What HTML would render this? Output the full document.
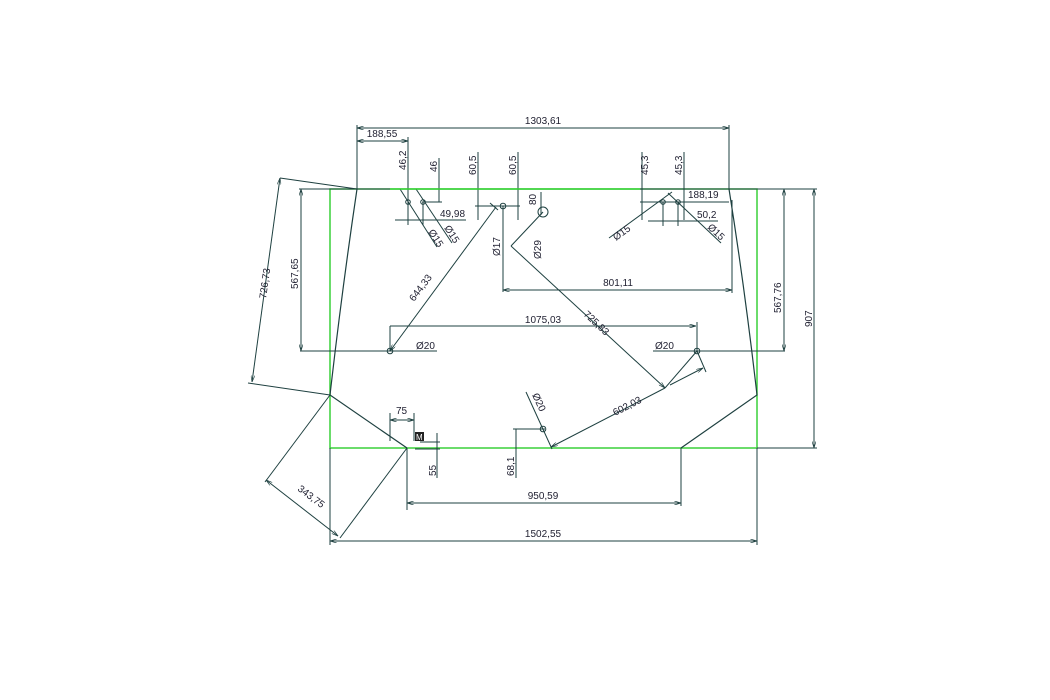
<!DOCTYPE html>
<html><head><meta charset="utf-8"><style>
html,body{margin:0;padding:0;background:#fff;}
svg{display:block;}
text{font-family:"Liberation Sans",sans-serif;font-size:10px;fill:#223;}
</style></head><body>
<svg width="1050" height="700" viewBox="0 0 1050 700" xmlns="http://www.w3.org/2000/svg">
<defs>
<marker id="a" viewBox="0 0 10 6" refX="10" refY="3" markerWidth="7" markerHeight="4" orient="auto-start-reverse"><path d="M0,0 L10,3 L0,6" fill="none" stroke="#1e4040" stroke-width="1"/></marker>
</defs>
<g stroke="#1e4040" stroke-width="1" fill="none">
<!-- green rect -->
<rect x="330" y="189" width="427" height="259" stroke="#3ad13a" stroke-width="1.5"/>
<!-- top dark line segments -->
<line x1="299" y1="189" x2="390" y2="189"/>
<line x1="640" y1="189" x2="817" y2="189"/>
<line x1="757" y1="448" x2="817" y2="448"/>
<line x1="330" y1="448" x2="330" y2="545"/>
<line x1="757" y1="448" x2="757" y2="545"/>
<!-- glass outline -->
<path d="M357,189 Q342,290 330,395 L407,448 M681,448 L757,395 Q745,290 729,189" stroke-width="1.2"/>
<!-- 1303.61 -->
<line x1="357" y1="125" x2="357" y2="189"/>
<line x1="729" y1="125" x2="729" y2="189"/>
<line x1="357" y1="128" x2="729" y2="128" marker-start="url(#a)" marker-end="url(#a)"/>
<!-- 188.55 -->
<line x1="357" y1="141" x2="408" y2="141" marker-start="url(#a)" marker-end="url(#a)"/>
<line x1="408" y1="137" x2="408" y2="225"/>
<line x1="439" y1="158" x2="439" y2="202"/>
<line x1="422" y1="202" x2="442" y2="202"/>
<line x1="395" y1="220" x2="466" y2="220"/>
<line x1="423" y1="202" x2="423" y2="225"/>
<!-- Ø15 leaders left -->
<line x1="400" y1="189" x2="437" y2="247"/>
<line x1="416" y1="189" x2="452" y2="243"/>
<circle cx="408" cy="202" r="2.3"/><circle cx="423" cy="202" r="2.3"/>
<!-- 60.5 -->
<line x1="478" y1="152" x2="478" y2="220"/>
<line x1="518" y1="152" x2="518" y2="220"/>
<line x1="475" y1="206" x2="520" y2="206"/>
<circle cx="503" cy="206" r="2.8"/>
<line x1="503" y1="206" x2="503" y2="292"/>
<!-- 80 / Ø29 -->
<line x1="541" y1="192" x2="541" y2="215"/>
<circle cx="543" cy="212" r="5"/>
<line x1="543" y1="212" x2="511" y2="246"/>
<line x1="511" y1="246" x2="665" y2="388" marker-end="url(#a)"/>
<!-- 801.11 -->
<line x1="503" y1="290" x2="732" y2="290" marker-start="url(#a)" marker-end="url(#a)"/>
<line x1="732" y1="200" x2="732" y2="293"/>
<!-- 644.33 -->
<line x1="390" y1="351" x2="496" y2="207" marker-start="url(#a)"/>
<line x1="490" y1="203" x2="498" y2="210"/>
<!-- 1075.03 -->
<line x1="390" y1="326" x2="696" y2="326" marker-end="url(#a)"/>
<line x1="390" y1="326" x2="390" y2="351"/>
<line x1="697" y1="322" x2="697" y2="351"/>
<!-- Ø20 holes -->
<circle cx="390" cy="351" r="2.8"/><circle cx="697" cy="351" r="2.8"/>
<line x1="300" y1="351" x2="437" y2="351"/>
<line x1="653" y1="351" x2="785" y2="351"/>
<!-- 567.65 -->
<line x1="301" y1="189" x2="301" y2="351" marker-start="url(#a)" marker-end="url(#a)"/>
<!-- 567.76 -->
<line x1="784" y1="189" x2="784" y2="351" marker-start="url(#a)" marker-end="url(#a)"/>
<!-- 907 -->
<line x1="814" y1="189" x2="814" y2="448" marker-start="url(#a)" marker-end="url(#a)"/>
<!-- 726.73 -->
<line x1="280" y1="178" x2="357" y2="189"/>
<line x1="248" y1="383" x2="330" y2="395"/>
<line x1="280" y1="178" x2="252" y2="382" marker-start="url(#a)" marker-end="url(#a)"/>
<!-- 343.75 -->
<line x1="330" y1="395" x2="265" y2="482"/>
<line x1="407" y1="448" x2="340" y2="538"/>
<line x1="266" y1="480" x2="338" y2="536" marker-start="url(#a)" marker-end="url(#a)"/>
<!-- 75 -->
<line x1="390" y1="413" x2="390" y2="441"/>
<line x1="414" y1="413" x2="414" y2="441"/>
<line x1="390" y1="420" x2="414" y2="420" marker-start="url(#a)" marker-end="url(#a)"/>
<!-- 55 -->
<line x1="437" y1="433" x2="437" y2="478"/>
<line x1="415" y1="449" x2="440" y2="449"/>
<line x1="420" y1="442" x2="440" y2="442"/>
<!-- 68.1 -->
<line x1="513" y1="429" x2="545" y2="429"/>
<line x1="516" y1="429" x2="516" y2="478"/>
<circle cx="543" cy="429" r="2.8"/>
<line x1="526" y1="392" x2="552" y2="449"/>
<!-- 602.03 -->
<line x1="551" y1="447" x2="665" y2="388" marker-start="url(#a)"/>
<line x1="665" y1="388" x2="697" y2="351"/>
<line x1="697" y1="351" x2="706" y2="372"/>
<line x1="670" y1="385" x2="703" y2="368" marker-end="url(#a)"/>
<!-- right holes -->
<line x1="642" y1="152" x2="642" y2="220"/>
<line x1="684" y1="152" x2="684" y2="220"/>
<line x1="640" y1="202" x2="729" y2="202"/>
<line x1="648" y1="221" x2="718" y2="221"/>
<line x1="663" y1="202" x2="663" y2="226"/>
<line x1="678" y1="202" x2="678" y2="226"/>
<circle cx="663" cy="202" r="2.3"/><circle cx="678" cy="202" r="2.3"/>
<line x1="609" y1="238" x2="672" y2="192"/>
<line x1="668" y1="193" x2="721" y2="243"/>
<!-- 950.59 -->
<line x1="407" y1="448" x2="407" y2="510"/>
<line x1="681" y1="448" x2="681" y2="506"/>
<line x1="407" y1="503" x2="681" y2="503" marker-start="url(#a)" marker-end="url(#a)"/>
<!-- 1502.55 -->
<line x1="330" y1="541" x2="757" y2="541" marker-start="url(#a)" marker-end="url(#a)"/>
</g>
<line x1="390" y1="189" x2="640" y2="189" stroke="#3ad13a" stroke-width="1.5"/>
<rect x="415" y="432" width="9" height="9" fill="#222"/>
<text x="416" y="440" style="fill:#fff;font-size:8px">M</text>
<g>
<text x="543" y="124" text-anchor="middle">1303,61</text>
<text x="382" y="137" text-anchor="middle">188,55</text>
<text transform="translate(406,170) rotate(-90)">46,2</text>
<text transform="translate(437,172) rotate(-90)">46</text>
<text transform="translate(476,175) rotate(-90)">60,5</text>
<text transform="translate(516,175) rotate(-90)">60,5</text>
<text transform="translate(536,205) rotate(-90)">80</text>
<text x="440" y="217">49,98</text>
<text transform="translate(428,232) rotate(57)">Ø15</text>
<text transform="translate(444,228) rotate(57)">Ø15</text>
<text transform="translate(500,256) rotate(-90)">Ø17</text>
<text transform="translate(541,259) rotate(-90)">Ø29</text>
<text x="618" y="286" text-anchor="middle">801,11</text>
<text transform="translate(414,302) rotate(-53)">644,33</text>
<text transform="translate(583,315) rotate(43)">725,83</text>
<text x="543" y="323" text-anchor="middle">1075,03</text>
<text x="416" y="349">Ø20</text>
<text x="655" y="349">Ø20</text>
<text transform="translate(298,289) rotate(-90)">567,65</text>
<text transform="translate(781,313) rotate(-90)">567,76</text>
<text transform="translate(812,327) rotate(-90)">907</text>
<text transform="translate(266,299) rotate(-82)">726,73</text>
<text transform="translate(297,490) rotate(37)">343,75</text>
<text x="396" y="414">75</text>
<text transform="translate(436,476) rotate(-90)">55</text>
<text transform="translate(514,476) rotate(-90)">68,1</text>
<text transform="translate(532,395) rotate(65)">Ø20</text>
<text transform="translate(615,416) rotate(-27)">602,03</text>
<text transform="translate(616,241) rotate(-36)">Ø15</text>
<text transform="translate(707,228) rotate(43)">Ø15</text>
<text transform="translate(648,175) rotate(-90)">45,3</text>
<text transform="translate(682,175) rotate(-90)">45,3</text>
<text x="688" y="198">188,19</text>
<text x="697" y="218">50,2</text>
<text x="543" y="499" text-anchor="middle">950,59</text>
<text x="543" y="537" text-anchor="middle">1502,55</text>
</g>
</svg>
</body></html>
